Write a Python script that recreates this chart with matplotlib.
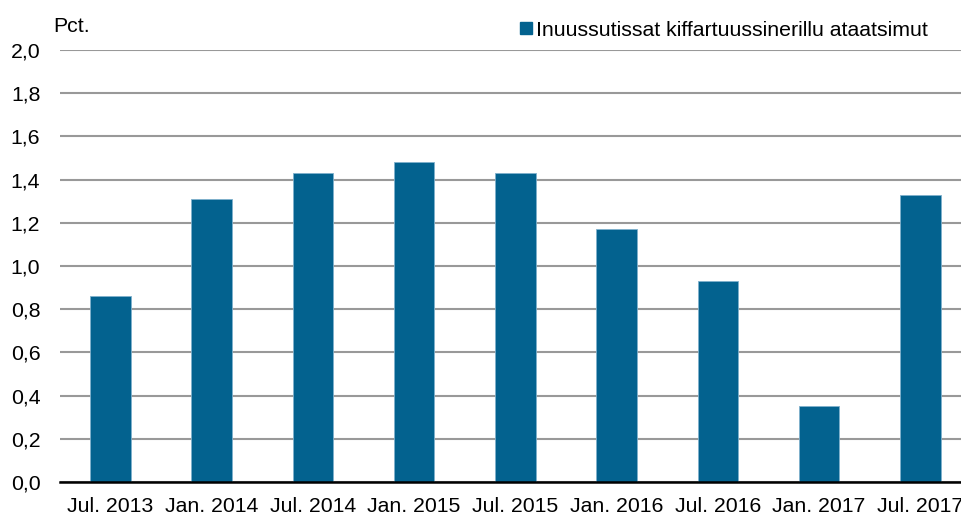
import matplotlib
matplotlib.use("Agg")
import matplotlib.pyplot as plt
from matplotlib.patches import Patch

categories = ["Jul. 2013", "Jan. 2014", "Jul. 2014", "Jan. 2015", "Jul. 2015",
              "Jan. 2016", "Jul. 2016", "Jan. 2017", "Jul. 2017"]
values = [0.86, 1.31, 1.43, 1.48, 1.43, 1.17, 0.93, 0.35, 1.33]
yticks = [0.0, 0.2, 0.4, 0.6, 0.8, 1.0, 1.2, 1.4, 1.6, 1.8, 2.0]
series_name = "Inuussutissat kiffartuussinerillu ataatsimut"

plt.rcParams['font.family'] = ['Liberation Sans', 'DejaVu Sans']
W, H = 962, 516
fig = plt.figure(figsize=(W/100, H/100), dpi=100)
left, right, bottom, top = 59.7, 971.0, 34.0, 465.9
ax = fig.add_axes([left/W, bottom/H, (right-left)/W, (top-bottom)/H])

bar_color = "#03628F"
fs = 15.3
x = list(range(len(categories)))
ax.bar(x, values, width=0.40, color=bar_color, edgecolor="#7FB0CC", linewidth=0.6, zorder=3)
ax.set_xlim(-0.5, len(categories) - 0.5)
ax.set_ylim(0, 2.0)
ax.set_yticks(yticks)
ax.set_yticklabels([f"{v:.1f}".replace(".", ",") for v in yticks])
ax.set_xticks(x)
ax.set_xticklabels(categories)
ax.yaxis.grid(True, color="#999999", linewidth=1.5, zorder=0)
ax.set_axisbelow(True)
for s in ["top", "right", "left"]:
    ax.spines[s].set_visible(False)
ax.spines["bottom"].set_linewidth(1.8)
ax.spines["bottom"].set_color("black")
ax.spines["bottom"].set_zorder(4)
ax.tick_params(axis="y", length=0, pad=14, labelsize=fs)
ax.tick_params(axis="x", length=0, pad=11, labelsize=fs)

fig.text(53/W, 1 - 32/H, "Pct.", fontsize=fs, va="baseline", ha="left")

handle = Patch(facecolor=bar_color, edgecolor=bar_color)
leg = fig.legend([handle], [series_name], loc="center left",
                 bbox_to_anchor=(520/W, 1 - 30/H), bbox_transform=fig.transFigure,
                 frameon=False, fontsize=fs, handlelength=0.55, handleheight=0.55,
                 handletextpad=0.2, borderpad=0, borderaxespad=0)

fig.savefig("out.png", dpi=100)
